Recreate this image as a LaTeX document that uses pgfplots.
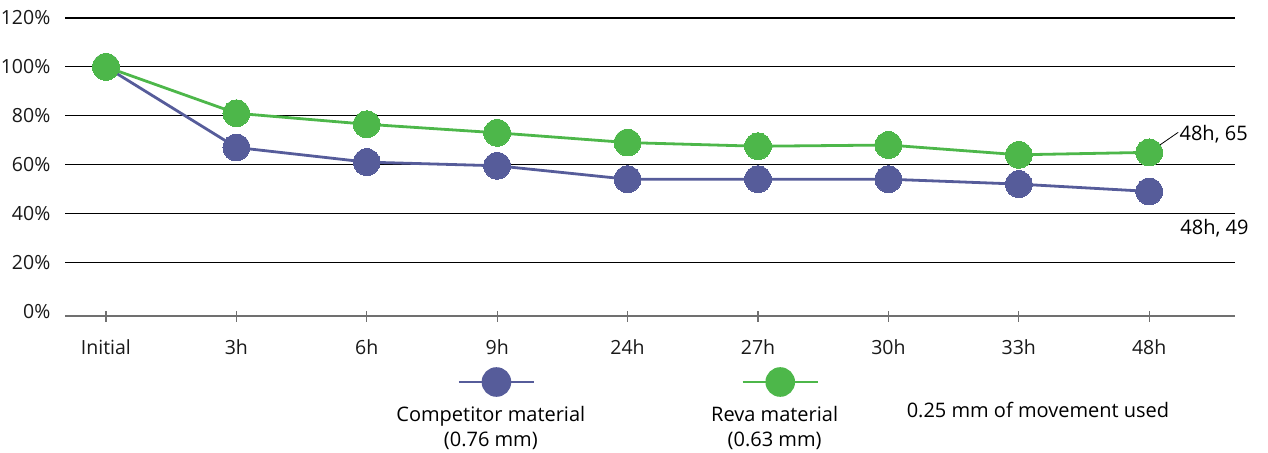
\documentclass[border=0pt]{standalone}
\usepackage{pgfplots}
\pgfplotsset{compat=1.18}
\usepackage{fontspec}
\setmainfont{Open Sans}

\definecolor{compblue}{HTML}{565C9A}
\definecolor{revagreen}{HTML}{4DB74A}
\definecolor{axisgray}{HTML}{707070}

\begin{document}
\begin{tikzpicture}
\fontsize{20bp}{25bp}\selectfont
\begin{axis}[
  name=ax,
  scale only axis,
  width=1170bp, height=298bp,
  xmin=-0.314, xmax=8.658,
  ymin=-2, ymax=120,
  axis x line*=bottom,
  axis y line*=left,
  y axis line style={draw=none},
  x axis line style={draw=axisgray, line width=1.4bp},
  xtick={0,...,8},
  xticklabels={Initial,3h,6h,9h,24h,27h,30h,33h,48h},
  tick align=center,
  major tick length=11bp,
  x tick style={draw=axisgray, line width=1.2bp},
  y tick style={draw=none},
  ytick={20,40,...,120},
  extra y ticks={0},
  extra y tick style={grid=none},
  ymajorgrids,
  grid style={black, line width=1.1bp},
  yticklabel={\pgfmathprintnumber[assume math mode=true]{\tick}\%},
  ticklabel style={font=\fontsize{19.5bp}{22bp}\selectfont, text=black!90},
  yticklabel style={inner sep=0pt, xshift=-9bp},
  xticklabel style={inner sep=0pt, yshift=-18bp},
  clip=false,
  legend columns=2,
  legend style={
    at={(axis description cs:0.2761,-0.354)}, anchor=west,
    draw=none, fill=none, inner sep=0pt, outer sep=0pt,
    column sep=0pt,
    /tikz/every even column/.append style={column sep=81bp},
    cells={anchor=west},
    nodes={inner sep=0pt, font=\fontsize{20bp}{25bp}\selectfont},
  },
]
% competitor material
\addplot[compblue, line width=2.8bp, mark=*, mark size=13.4bp,
  mark options={fill=compblue, draw=compblue, line width=0pt},
  legend image code/.code={%
    \path (0bp,0bp);
    \draw[overlay, compblue, line width=2.8bp] (69.5bp,39.5bp) -- (144.5bp,39.5bp);
    \fill[overlay, compblue] (107bp,39.5bp) circle (13.4bp);}]
  coordinates {(0,100) (1,67) (2,61) (3,59.5) (4,54) (5,54) (6,54) (7,52) (8,49)};
\addlegendentry{\parbox[c]{200bp}{\centering Competitor material\\(0.76 mm)}}
% Reva material
\addplot[revagreen, line width=2.8bp, mark=*, mark size=13.4bp,
  mark options={fill=revagreen, draw=revagreen, line width=0pt},
  legend image code/.code={%
    \path (0bp,0bp);
    \draw[overlay, revagreen, line width=2.8bp] (69.5bp,39.5bp) -- (144.5bp,39.5bp);
    \fill[overlay, revagreen] (107bp,39.5bp) circle (13.4bp);}]
  coordinates {(0,100) (1,81) (2,76.5) (3,73) (4,69) (5,67.5) (6,68) (7,64) (8,65)};
\addlegendentry{\parbox[c]{200bp}{\centering Reva material\\(0.63 mm)}}

% end-point annotations
\draw[black, line width=0.8bp] (axis cs:8,65) -- ++(29bp,20bp)
  node[anchor=west, inner sep=1bp, yshift=-2bp] {48h, 65};
\node[anchor=west, inner sep=1bp] at ([shift={(30bp,-37bp)}]axis cs:8,49) {48h, 49};

\node at (axis description cs:0.8316,-0.3154) {0.25 mm of movement used};
\end{axis}
\pgfresetboundingbox
\path ([shift={(-65bp,-136bp)}]ax.south west) rectangle ([shift={(33bp,18bp)}]ax.north east);
\end{tikzpicture}
\end{document}
